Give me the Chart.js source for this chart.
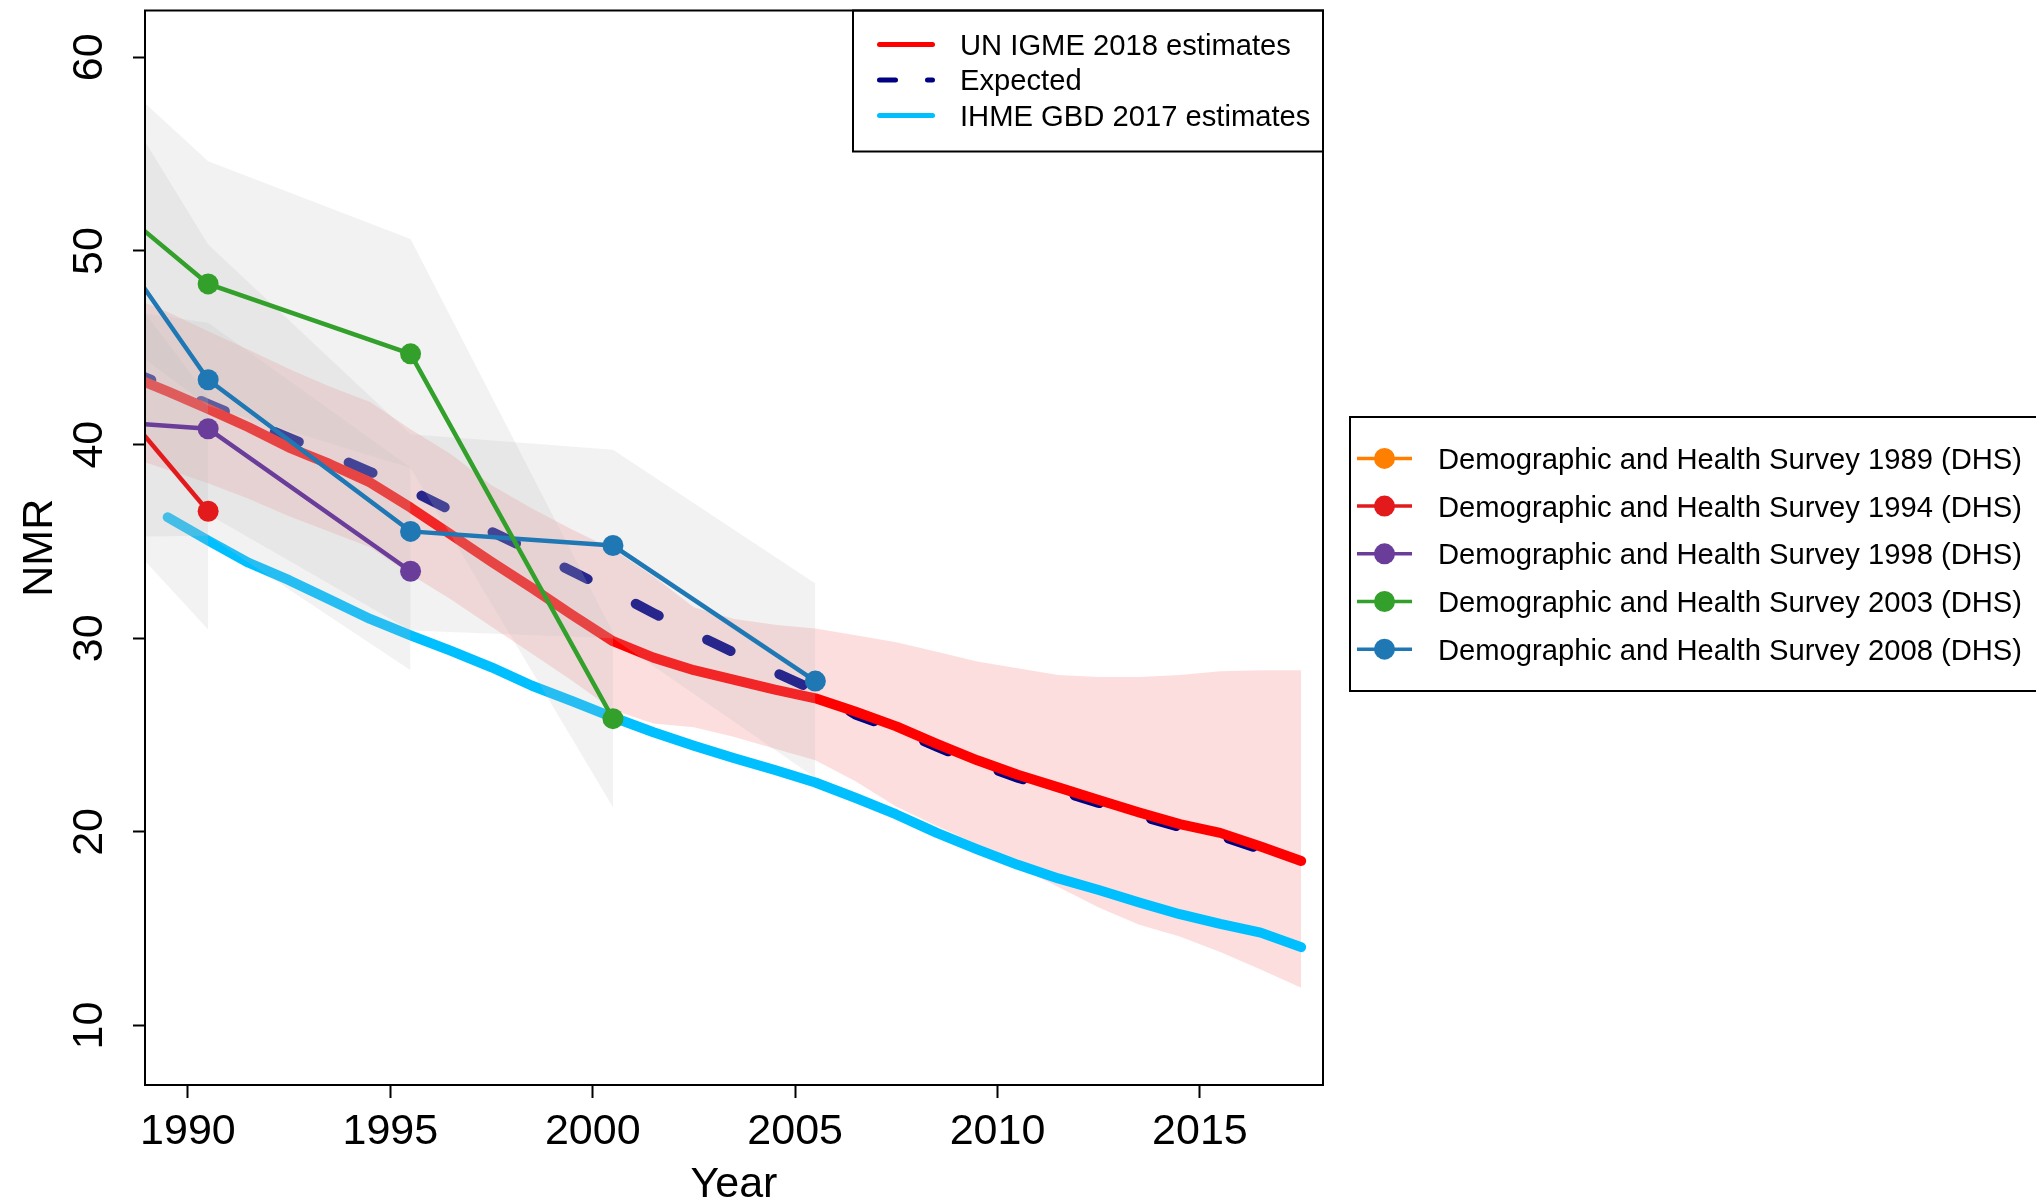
<!DOCTYPE html>
<html>
<head>
<meta charset="utf-8">
<title>NMR</title>
<script src="https://cdn.jsdelivr.net/npm/chart.js@4.4.1/dist/chart.umd.min.js"></script>
<style>
  html, body { margin: 0; padding: 0; background: #fff; }
  canvas { display: block; }
</style>
</head>
<body>
<canvas id="grafico" width="2036" height="1201" style="width:2036px;height:1201px"></canvas>
<script>
const FONTE = "'Liberation Sans', Arial, Helvetica, sans-serif";

// UN IGME 2018 (linha vermelha + faixa rosa)
const anosIgme = [1988.5, 1989.5, 1990.5, 1991.5, 1992.5, 1993.5, 1994.5, 1995.5, 1996.5, 1997.5,
  1998.5, 1999.5, 2000.5, 2001.5, 2002.5, 2003.5, 2004.5, 2005.5, 2006.5, 2007.5,
  2008.5, 2009.5, 2010.5, 2011.5, 2012.5, 2013.5, 2014.5, 2015.5, 2016.5, 2017.5];
const igmeNMR = [43.6, 42.75, 41.85, 40.9, 39.85, 39.0, 38.05, 36.75, 35.35, 33.95,
  32.6, 31.2, 29.85, 29.0, 28.35, 27.85, 27.35, 26.9, 26.2, 25.45,
  24.55, 23.7, 22.95, 22.3, 21.65, 21.0, 20.4, 19.95, 19.25, 18.5];
const igmeSup = [47.7, 46.85, 45.85, 44.9, 43.9, 43.0, 42.2, 40.8, 39.5, 37.9,
  36.7, 35.6, 34.6, 33.2, 31.6, 31.0, 30.7, 30.5, 30.15, 29.8,
  29.3, 28.8, 28.45, 28.1, 28.0, 28.0, 28.1, 28.3, 28.35, 28.35];
const igmeInf = [39.4, 38.7, 38.0, 37.2, 36.3, 35.5, 34.7, 33.3, 32.0, 30.6,
  29.2, 27.8, 26.3, 25.6, 25.4, 24.9, 24.3, 23.7, 22.6, 21.3,
  20.3, 19.35, 18.2, 17.15, 16.1, 15.2, 14.6, 13.8, 12.9, 11.95];

// Expected
const esperadoNMR = [43.85, 43.0, 42.1, 41.2, 40.35, 39.5, 38.6, 37.65, 36.6, 35.5,
  34.5, 33.45, 32.4, 31.3, 30.25, 29.25, 28.25, 27.3, 26.05, 25.3,
  24.4, 23.55, 22.8, 22.15, 21.5, 20.85, 20.25, 19.8, 19.1, 18.35];

// IHME GBD 2017
const anosIhme = [1989.5, 1990.5, 1991.5, 1992.5, 1993.5, 1994.5, 1995.5, 1996.5, 1997.5, 1998.5,
  1999.5, 2000.5, 2001.5, 2002.5, 2003.5, 2004.5, 2005.5, 2006.5, 2007.5, 2008.5,
  2009.5, 2010.5, 2011.5, 2012.5, 2013.5, 2014.5, 2015.5, 2016.5, 2017.5];
const ihmeNMR = [36.25, 35.05, 33.9, 33.0, 32.0, 31.0, 30.15, 29.35, 28.5, 27.55,
  26.75, 25.92, 25.15, 24.45, 23.8, 23.2, 22.55, 21.75, 20.9, 19.95,
  19.1, 18.3, 17.6, 17.0, 16.35, 15.75, 15.25, 14.8, 14.05];

// DHS (pontos e intervalos)
const dhsNomes = [
  "Demographic and Health Survey 1989 (DHS)",
  "Demographic and Health Survey 1994 (DHS)",
  "Demographic and Health Survey 1998 (DHS)",
  "Demographic and Health Survey 2003 (DHS)",
  "Demographic and Health Survey 2008 (DHS)"
];
const dhsCores = ["#FF7F00", "#E31A1C", "#6A3D9A", "#33A02C", "#1F78B4"];

const dhs1989Anos = [];
const dhs1989NMR = [];
const dhs1994Anos = [1985.5, 1990.5];
const dhs1994NMR = [48.96, 36.56];
const dhs1994Sup = [56.2, 42.5];
const dhs1994Inf = [41.8, 30.45];
const dhs1998Anos = [1985.5, 1990.5, 1995.5];
const dhs1998NMR = [41.56, 40.82, 33.46];
const dhs1998Sup = [47.77, 46.3, 38.82];
const dhs1998Inf = [35.14, 35.3, 28.35];
const dhs2003Anos = [1985.5, 1990.5, 1995.5, 2000.5];
const dhs2003NMR = [57.0, 48.3, 44.69, 25.85];
const dhs2003Sup = [64.25, 54.63, 50.62, 30.3];
const dhs2003Inf = [49.8, 42.0, 38.8, 21.27];
const dhs2008Anos = [1985.5, 1990.5, 1995.5, 2000.5, 2005.5];
const dhs2008NMR = [58.35, 43.35, 35.52, 34.79, 27.79];
const dhs2008Sup = [67.4, 50.33, 40.53, 39.74, 32.83];
const dhs2008Inf = [49.3, 36.4, 30.4, 30.0, 22.8];

const yTicks = [10, 20, 30, 40, 50, 60];

function pontos(xs, ys) {
  return xs.map((x, i) => ({ x: x, y: ys[i] }));
}

const dhsSeries = [
  [dhs1989Anos, dhs1989NMR],
  [dhs1994Anos, dhs1994NMR],
  [dhs1998Anos, dhs1998NMR],
  [dhs2003Anos, dhs2003NMR],
  [dhs2008Anos, dhs2008NMR]
];
const faixas = [
  [dhs1994Anos, dhs1994Sup, dhs1994Inf],
  [dhs1998Anos, dhs1998Sup, dhs1998Inf],
  [dhs2003Anos, dhs2003Sup, dhs2003Inf],
  [dhs2008Anos, dhs2008Sup, dhs2008Inf]
];

const datasets = [];

// linhas DHS por cima de tudo
dhsSeries.forEach((s, i) => {
  datasets.push({
    label: dhsNomes[i], data: pontos(s[0], s[1]),
    borderColor: dhsCores[i], backgroundColor: dhsCores[i],
    borderWidth: 4.5, pointRadius: 10.5, pointHoverRadius: 10.5, pointBorderWidth: 0,
    tension: 0, fill: false, order: 0, clip: 0
  });
});

// faixas cinzas (ficam por cima das estimativas)
faixas.forEach(f => {
  datasets.push({
    label: "_sup", data: pontos(f[0], f[1]), borderWidth: 0, pointRadius: 0,
    backgroundColor: "rgba(190,190,190,0.2)", fill: "+1", tension: 0, order: 1, clip: 0
  });
  datasets.push({
    label: "_inf", data: pontos(f[0], f[2]), borderWidth: 0, pointRadius: 0,
    fill: false, tension: 0, order: 1, clip: 0
  });
});

datasets.push({
  label: "UN IGME 2018 estimates", data: pontos(anosIgme, igmeNMR),
  borderColor: "#FF0000", borderWidth: 10, borderCapStyle: "round", borderJoinStyle: "round",
  pointRadius: 0, tension: 0, fill: false, order: 2, clip: 0
});
datasets.push({
  label: "Expected", data: pontos(anosIgme, esperadoNMR),
  borderColor: "#000080", borderWidth: 10, borderCapStyle: "round", borderDash: [26, 54],
  pointRadius: 0, tension: 0, fill: false, order: 2, clip: 0
});
datasets.push({
  label: "IHME GBD 2017 estimates", data: pontos(anosIhme, ihmeNMR),
  borderColor: "#00BFFF", borderWidth: 10, borderCapStyle: "round", borderJoinStyle: "round",
  pointRadius: 0, tension: 0, fill: false, order: 2, clip: 0
});
datasets.push({
  label: "_igmeSup", data: pontos(anosIgme, igmeSup), borderWidth: 0, pointRadius: 0,
  backgroundColor: "rgba(240,0,0,0.13)", fill: "+1", tension: 0, order: 3, clip: 0
});
datasets.push({
  label: "_igmeInf", data: pontos(anosIgme, igmeInf), borderWidth: 0, pointRadius: 0,
  fill: false, tension: 0, order: 3, clip: 0
});

function acharSerie(chart, nome) {
  return chart.data.datasets.find(d => d.label === nome);
}

const molduraR = {
  id: "molduraR",
  beforeDraw(chart) {
    const ctx = chart.ctx;
    ctx.save();
    ctx.fillStyle = "#fff";
    ctx.fillRect(0, 0, chart.width, chart.height);
    ctx.restore();
  },
  afterDraw(chart) {
    const { ctx, chartArea: a } = chart;
    const y = chart.scales.y;
    ctx.save();
    ctx.strokeStyle = "#000";
    ctx.lineWidth = 2;
    ctx.strokeRect(a.left, a.top, a.right - a.left, a.bottom - a.top);

    ctx.fillStyle = "#000";
    ctx.font = "43px " + FONTE;
    ctx.textAlign = "center";
    ctx.textBaseline = "alphabetic";
    y.ticks.forEach(t => {
      ctx.save();
      ctx.translate(102, y.getPixelForValue(t.value));
      ctx.rotate(-Math.PI / 2);
      ctx.fillText(String(t.value), 0, 0);
      ctx.restore();
    });
    ctx.save();
    ctx.translate(52, (a.top + a.bottom) / 2);
    ctx.rotate(-Math.PI / 2);
    ctx.fillText("NMR", 0, 0);
    ctx.restore();
    ctx.fillText("Year", (a.left + a.right) / 2, 1197);

    // legenda de cima
    ctx.lineWidth = 2;
    ctx.strokeRect(853, a.top, a.right - 853, 141);
    ctx.font = "29.2px " + FONTE;
    ctx.textAlign = "left";
    const topo = ["UN IGME 2018 estimates", "Expected", "IHME GBD 2017 estimates"];
    topo.forEach((nome, i) => {
      const ds = acharSerie(chart, nome);
      const ly = 44.5 + i * 35.5;
      ctx.save();
      ctx.strokeStyle = ds.borderColor;
      ctx.lineWidth = 5;
      ctx.lineCap = "round";
      if (ds.borderDash) ctx.setLineDash([16, 32]);
      ctx.beginPath();
      ctx.moveTo(879.5, ly);
      ctx.lineTo(932.5, ly);
      ctx.stroke();
      ctx.restore();
      ctx.fillText(nome, 960, ly + 10.4);
    });

    // legenda da direita
    ctx.strokeRect(1350, 417, 800, 274);
    dhsNomes.forEach((nome, i) => {
      const ds = acharSerie(chart, nome);
      const ly = 458.4 + i * 47.7;
      ctx.save();
      ctx.strokeStyle = ds.borderColor;
      ctx.fillStyle = ds.backgroundColor;
      ctx.lineWidth = 3.5;
      ctx.beginPath();
      ctx.moveTo(1357, ly);
      ctx.lineTo(1412, ly);
      ctx.stroke();
      ctx.beginPath();
      ctx.arc(1384.5, ly, 10.5, 0, Math.PI * 2);
      ctx.fill();
      ctx.restore();
      ctx.fillText(nome, 1438, ly + 10.4);
    });
    ctx.restore();
  }
};

new Chart(document.getElementById("grafico"), {
  type: "line",
  data: { datasets: datasets },
  options: {
    responsive: false,
    devicePixelRatio: 1,
    animation: false,
    events: [],
    layout: { padding: { top: 9, right: 713, left: 0, bottom: 0 } },
    plugins: { legend: { display: false }, tooltip: { enabled: false } },
    scales: {
      x: {
        type: "linear", min: 1988.94, max: 2018.04,
        border: { display: false },
        grid: { display: true, drawOnChartArea: false, drawTicks: true, tickLength: 13, tickWidth: 2, tickColor: "#000" },
        ticks: {
          stepSize: 5, includeBounds: false, autoSkip: false, maxRotation: 0, padding: 8,
          color: "#000", font: { family: FONTE, size: 43 },
          callback: v => String(v)
        },
        afterFit: s => { s.height = 116; }
      },
      y: {
        type: "linear", min: 6.93, max: 62.42,
        border: { display: false },
        grid: { display: true, drawOnChartArea: false, drawTicks: true, tickLength: 12, tickWidth: 2, tickColor: "#000" },
        ticks: { display: false, stepSize: 10, includeBounds: false },
        afterBuildTicks: s => { s.ticks = yTicks.map(v => ({ value: v })); },
        afterFit: s => { s.width = 145; }
      }
    }
  },
  plugins: [molduraR]
});
</script>
</body>
</html>
